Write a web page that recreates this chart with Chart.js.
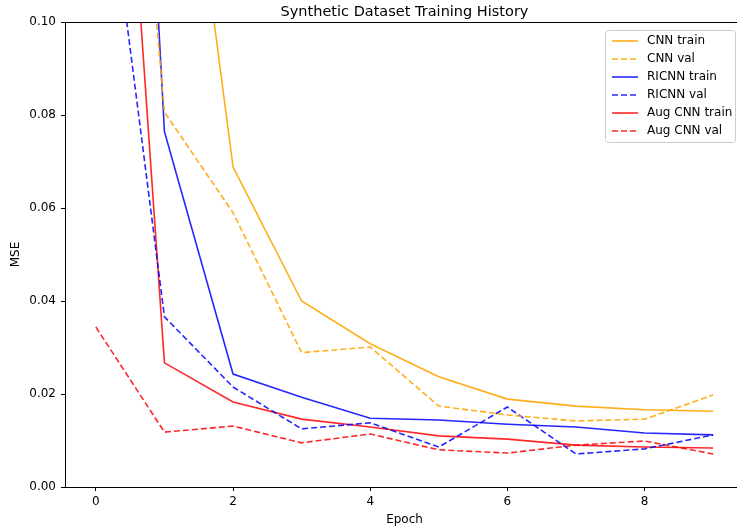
<!DOCTYPE html>
<html>
<head>
<meta charset="utf-8">
<script src="https://cdn.jsdelivr.net/npm/chart.js@4"></script>
<style>
  html, body { margin: 0; padding: 0; background: #fff; overflow: hidden; }
  #wrap { width: 737px; height: 527px; overflow: hidden; }
</style>
</head>
<body>
<div id="wrap"><canvas id="history-chart" width="750" height="527"></canvas></div>
<script>
// values (early epochs run off the top, guessed)
const epochs = [0, 1, 2, 3, 4, 5, 6, 7, 8, 9]
const cnnTrain = [0.30, 0.182, 0.0688, 0.0400, 0.0308, 0.0237, 0.0189, 0.0174, 0.0166, 0.0163]
const cnnVal = [0.25, 0.0806, 0.0590, 0.0289, 0.0301, 0.0174, 0.0155, 0.0142, 0.0146, 0.0198]
const ricnnTrain = [0.35, 0.0764, 0.0243, 0.0193, 0.0148, 0.0144, 0.0135, 0.0129, 0.0116, 0.0112]
const ricnnVal = [0.152, 0.0366, 0.0215, 0.0125, 0.0138, 0.0086, 0.0172, 0.0071, 0.0082, 0.0112]
const augTrain = [0.24, 0.0267, 0.0183, 0.0146, 0.0129, 0.0110, 0.0103, 0.0090, 0.0086, 0.0084]
const augVal = [0.0344, 0.0118, 0.0131, 0.0095, 0.0114, 0.0080, 0.0073, 0.0090, 0.0099, 0.0071]
const yTicks = [0, 0.02, 0.04, 0.06, 0.08, 0.10]

const ORANGE = "rgba(255,165,0,0.9)"
const BLUE = "rgba(0,0,255,0.85)"
const RED = "rgba(255,0,0,0.85)"
const DASH = [6, 3]

Chart.defaults.font.family = "'DejaVu Sans', sans-serif"
Chart.defaults.color = "#000"

function toPoints(values){
    return values.map((v, i) => ({ x: epochs[i], y: v }))
}

function makeSet(label, values, color, dashed){
    return {
        label: label,
        data: toPoints(values),
        borderColor: color,
        backgroundColor: color,
        borderWidth: 1.6,
        borderDash: dashed ? DASH : [],
        pointRadius: 0,
        tension: 0,
        fill: false
    }
}

// box around the axes, the right spine falls off the page like the reference
const frame = {
    id: "frame",
    afterDatasetsDraw(chart){
        const {ctx, chartArea: a} = chart
        ctx.save()
        ctx.strokeStyle = "#000"
        ctx.lineWidth = 1
        ctx.strokeRect(a.left + 0.5, a.top + 0.5, a.right - a.left, a.bottom - a.top)
        ctx.restore()
    }
}

// matplotlib-style legend in the upper right corner
const insideLegend = {
    id: "insideLegend",
    afterDraw(chart){
        const {ctx, chartArea: a} = chart
        const sets = chart.data.datasets
        const rowH = 18
        const w = 130
        const h = sets.length * rowH + 4
        const x = a.right - 139
        const y = a.top + 8
        ctx.save()
        ctx.fillStyle = "rgba(255,255,255,0.8)"
        ctx.strokeStyle = "#cccccc"
        ctx.lineWidth = 1
        ctx.beginPath()
        ctx.roundRect(x + 0.5, y + 0.5, w, h, 3)
        ctx.fill()
        ctx.stroke()
        ctx.font = "12px 'DejaVu Sans', sans-serif"
        ctx.textBaseline = "middle"
        sets.forEach((ds, i) => {
            const ly = y + 11 + i * rowH
            ctx.strokeStyle = ds.borderColor
            ctx.lineWidth = ds.borderWidth
            ctx.setLineDash(ds.borderDash)
            ctx.beginPath()
            ctx.moveTo(x + 7, ly)
            ctx.lineTo(x + 33, ly)
            ctx.stroke()
            ctx.setLineDash([])
            ctx.fillStyle = "#000"
            ctx.fillText(ds.label, x + 42, ly)
        })
        ctx.restore()
    }
}

new Chart("history-chart", {
    type: "line",
    data: {
        datasets: [
            makeSet("CNN train", cnnTrain, ORANGE, false),
            makeSet("CNN val", cnnVal, ORANGE, true),
            makeSet("RICNN train", ricnnTrain, BLUE, false),
            makeSet("RICNN val", ricnnVal, BLUE, true),
            makeSet("Aug CNN train", augTrain, RED, false),
            makeSet("Aug CNN val", augVal, RED, true)
        ]
    },
    options: {
        responsive: false,
        animation: false,
        layout: { padding: { left: 0, right: 6, top: 0, bottom: 0 } },
        plugins: {
            legend: { display: false },
            tooltip: { enabled: false },
            title: {
                display: true,
                text: "Synthetic Dataset Training History",
                fullSize: false,
                font: { size: 14.5, weight: "normal" },
                padding: { top: 4, bottom: 0.6 }
            }
        },
        scales: {
            x: {
                type: "linear",
                min: -0.45,
                max: 9.45,
                afterFit: s => { s.height = 40 },
                border: { display: false },
                grid: { drawOnChartArea: false, drawTicks: true, tickLength: 4, color: "#000" },
                ticks: { stepSize: 2, includeBounds: false, padding: 4, font: { size: 12 }, color: "#000" },
                title: { display: true, text: "Epoch", font: { size: 12 }, padding: 0 }
            },
            y: {
                min: 0,
                max: 0.1,
                afterFit: s => { s.width = 65 },
                afterBuildTicks: s => { s.ticks = yTicks.map(v => ({ value: v })) },
                border: { display: false },
                grid: { drawOnChartArea: false, drawTicks: true, tickLength: 4, color: "#000" },
                ticks: { padding: 5, font: { size: 12 }, color: "#000", callback: v => v.toFixed(2) },
                title: { display: true, text: "MSE", font: { size: 12 }, padding: { top: 9, bottom: 0 } }
            }
        }
    },
    plugins: [frame, insideLegend]
});
</script>
</body>
</html>
